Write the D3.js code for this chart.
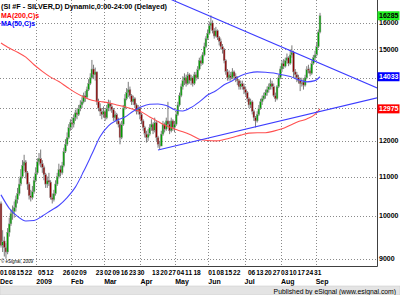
<!DOCTYPE html>
<html>
<head>
<meta charset="utf-8">
<script src="https://cdn.jsdelivr.net/npm/d3@7"></script>
<style>
  body { margin: 0; background: #fff; }
  svg { display: block; font-family: "Liberation Sans", Arial, sans-serif; }
</style>
</head>
<body>
<svg id="main-canvas" width="400" height="295"></svg>
<script>
// daily bars, Dec 1 2008 .. Sep 3 2009 (open = previous close)
var firstOpen = 10300
var closes = [
  9300, 9400, 9250, 9150, 9600, 9800, 10050, 10100, 10200, 10400, 10550, 10800, 11000, 11300, 11400, 11100, 10800, 10500, 10450, 10600, 10900, 11100,
  11400, 11500, 11350, 11250, 11050, 10800, 10900, 10850, 10450, 10400, 10550, 10800, 11000, 11200, 11100, 11300, 11700, 11900, 12100, 12400, 12550,
  12500, 12700, 12850, 12800, 13000, 13100, 13200, 13400, 13350, 13600, 13800, 14000, 14300, 14100, 14200, 13200, 13000, 12900, 12800, 12900,
  12700, 13000, 13150, 13050, 12950, 12700, 12800, 12600, 12500, 12100, 12500, 13000, 13300, 13500, 13600, 13400, 13200, 13300, 13100, 12900, 13000, 12800,
  12600, 12400, 12200, 12100, 12200, 12400, 12500, 12300, 12550, 12100, 11900, 11850, 12200, 12500, 12350, 12600, 12500, 12300, 12600, 12400, 12500,
  12800, 13100, 13400, 13700, 13900, 14000, 13800, 14100, 13900, 14000, 13800, 14100, 14000, 14300, 14600, 14500, 14800, 15100, 15400, 15600,
  15900, 16000, 15700, 15500, 15700, 15450, 15300, 15100, 15000, 14600, 14200, 14000, 14100, 14000, 14200, 14050, 13950, 13900, 13700, 13800, 13700, 13600,
  13500, 13300, 13100, 13200, 12900, 12700, 12600, 12800, 13000, 13200, 13300, 13400, 13500, 13600, 13700, 13800, 13700, 13400, 13300, 13700, 14000, 14300,
  14500, 14400, 14600, 14700, 14500, 14800, 14900, 14200, 14100, 14000, 13900, 13800, 13850, 13750, 14000, 14300, 14250, 14150, 14500, 14700, 14800,
  15100, 15650, 16285
]
var highs = [
  10350, 9650, 9500, 9350, 9700, 9950, 10150, 10250, 10350, 10500, 10700, 10950, 11200, 11450, 11600, 11450, 11150, 10850, 10650, 10750, 11000, 11250,
  11500, 11650, 11750, 11450, 11300, 11100, 11000, 11100, 10900, 10550, 10650, 10900, 11100, 11350, 11300, 11400, 11800, 12050, 12250, 12500, 12650,
  12700, 12800, 12950, 13000, 13100, 13250, 13350, 13500, 13550, 13700, 13950, 14150, 14620, 14450, 14350, 14100, 13300, 13150, 13000, 13050,
  12950, 13100, 13270, 13250, 13150, 13000, 12900, 12850, 12700, 12550, 12600, 13100, 13450, 13650, 13860, 13700, 13450, 13400, 13350, 13150, 13100, 13050,
  12850, 12650, 12450, 12300, 12350, 12500, 12650, 12550, 12700, 12600, 12150, 12000, 12300, 12600, 12550, 12700, 13200, 12600, 12700, 12650, 12600,
  12900, 13200, 13500, 13800, 14050, 14150, 14100, 14200, 14150, 14100, 14050, 14200, 14200, 14400, 14700, 14750, 14900, 15250, 15500, 15750,
  16050, 16300, 16100, 15800, 15850, 15750, 15500, 15400, 15200, 15050, 14650, 14300, 14250, 14200, 14330, 14250, 14150, 14050, 13950, 13900, 13900, 13800,
  13700, 13550, 13350, 13300, 13250, 12950, 12750, 12900, 13100, 13300, 13400, 13500, 13600, 13700, 13800, 13950, 13900, 13800, 13500, 13750, 14100, 14400,
  14600, 14650, 14700, 14850, 14750, 15000, 15150, 14950, 14300, 14200, 14100, 14000, 14000, 13950, 14100, 14400, 14450, 14350, 14600, 14800, 14950,
  15250, 15750, 16400
]
var lows = [
  9250, 9150, 9050, 9000, 9100, 9500, 9750, 9900, 9950, 10100, 10300, 10500, 10750, 10950, 11150, 10950, 10650, 10400, 10350, 10400, 10550, 10850,
  11050, 11300, 11250, 11100, 10900, 10700, 10700, 10750, 10400, 10300, 10350, 10500, 10750, 10950, 11000, 11050, 11250, 11650, 11850, 12050, 12300,
  12350, 12400, 12600, 12650, 12750, 12900, 13000, 13150, 13200, 13300, 13550, 13750, 13950, 13950, 13900, 13100, 12900, 12750, 12650, 12700,
  12600, 12650, 12900, 12900, 12850, 12600, 12600, 12500, 12400, 11900, 12050, 12450, 12950, 13250, 13350, 13300, 13100, 13100, 13000, 12800, 12800, 12650,
  12500, 12300, 12100, 11950, 12000, 12150, 12300, 12200, 12250, 12000, 11800, 11750, 11850, 12150, 12250, 12300, 12400, 12200, 12250, 12300, 12250,
  12450, 12750, 13050, 13350, 13600, 13750, 13700, 13750, 13800, 13750, 13700, 13750, 13900, 13950, 14250, 14400, 14450, 14750, 15050, 15350,
  15550, 15750, 15600, 15400, 15450, 15350, 15150, 15000, 14850, 14500, 14100, 13900, 13900, 13900, 13950, 13950, 13850, 13750, 13600, 13600, 13600, 13450,
  13400, 13200, 13000, 13000, 12800, 12600, 12400, 12550, 12750, 12950, 13100, 13250, 13300, 13400, 13500, 13600, 13600, 13350, 13200, 13250, 13650, 13950,
  14200, 14300, 14350, 14500, 14400, 14450, 14700, 14000, 13950, 13850, 13800, 13550, 13700, 13600, 13700, 13950, 14150, 14050, 14100, 14450, 14600,
  14750, 15050, 15600
]
var holidays = ["2008-12-25", "2009-01-01", "2009-04-10", "2009-05-25", "2009-07-03"]

// moving averages, every 5th bar
var maIndex = [0, 5, 10, 15, 20, 25, 30, 35, 40, 45, 50, 55, 60, 65, 70, 75, 80, 85, 90, 95,
               100, 105, 110, 115, 120, 125, 130, 135, 140, 145, 150, 155, 160, 165, 170, 175, 180, 185, 190, 193]
var ma50 = [10520, 10180, 9980, 9870, 9880, 9990, 10120, 10250, 10450, 10720, 11140, 11620, 12130, 12450, 12620, 12720, 12900, 13040, 13120, 13130,
            13080, 12950, 12910, 13020, 13200, 13420, 13560, 13760, 13900, 14070, 14160, 14200, 14190, 14160, 14100, 14040, 13930, 13860, 13900, 14033]
var ma200 = [15240, 15050, 14900, 14720, 14450, 14220, 14020, 13870, 13680, 13500, 13360, 13250, 13210, 13170, 13100, 13040, 12960, 12880, 12720, 12580,
             12450, 12350, 12270, 12170, 12050, 12010, 12000, 12040, 12100, 12170, 12230, 12240, 12240, 12290, 12360, 12470, 12580, 12660, 12800, 12975]

// trendlines: [bar index, price]
var trendUpper = [[100, 17030], [228, 13645]]
var trendLower = [[95, 11737], [228, 13333]]

var priceTicks = [9000, 10000, 11000, 12000, 13000, 14000, 15000, 16000]
var dayTicks = ["2008-12-01", "2008-12-08", "2008-12-15", "2008-12-22",
                "2009-01-05", "2009-01-12", "2009-01-26",
                "2009-02-02", "2009-02-09", "2009-02-23",
                "2009-03-02", "2009-03-09", "2009-03-16", "2009-03-23", "2009-03-30",
                "2009-04-13", "2009-04-20", "2009-04-27",
                "2009-05-04", "2009-05-11", "2009-05-18",
                "2009-06-01", "2009-06-08", "2009-06-15", "2009-06-22",
                "2009-07-06", "2009-07-13", "2009-07-20", "2009-07-27",
                "2009-08-03", "2009-08-10", "2009-08-17", "2009-08-24", "2009-08-31"]
var monthNames = ["Dec", "2009", "Feb", "Mar", "Apr", "May", "Jun", "Jul", "Aug", "Sep"]

var titleText = "(SI #F - SILVER,D) Dynamic,0:00-24:00 (Delayed)"

// ---- layout ----
var W = 400, H = 295
var plotR = 377, plotB = 266
var svg = d3.select("#main-canvas")
var fmt = d3.timeFormat("%Y-%m-%d")

var dates = d3.timeDay.range(new Date(2008, 11, 1), new Date(2009, 8, 4))
              .filter(function (d) { return d.getDay() > 0 && d.getDay() < 6 && holidays.indexOf(fmt(d)) < 0 })
              .slice(0, closes.length)
var dateKeys = dates.map(fmt)

var bars = closes.map(function (c, i) {
    return { i: i, o: i ? closes[i - 1] : firstOpen, c: c, h: highs[i], l: lows[i] }
})

var x = d3.scaleLinear().domain([0, 193]).range([1, 320])
var y = d3.scaleLog().domain([8843, 16923]).range([plotB, 0])

svg.append("rect").attr("width", W).attr("height", H).attr("fill", "#fff")

svg.append("clipPath").attr("id", "plot-clip")
   .append("rect").attr("x", 0).attr("y", 0).attr("width", plotR).attr("height", plotB)

// grid
var grid = svg.append("g").attr("stroke", "#8a8a8a").attr("stroke-dasharray", "1,2").attr("stroke-width", 1)
grid.selectAll(".hg").data(priceTicks).enter().append("line")
    .attr("x1", 0).attr("x2", plotR)
    .attr("y1", function (d) { return Math.round(y(d)) + 0.5 })
    .attr("y2", function (d) { return Math.round(y(d)) + 0.5 })

var monthStarts = []
dates.forEach(function (d, i) {
    if (i === 0 || d.getMonth() !== dates[i - 1].getMonth()) monthStarts.push(i)
})
grid.selectAll(".vg").data(monthStarts.slice(1)).enter().append("line")
    .attr("y1", 0).attr("y2", plotB)
    .attr("x1", function (d) { return Math.round(x(d)) - 0.5 })
    .attr("x2", function (d) { return Math.round(x(d)) - 0.5 })

var plot = svg.append("g").attr("clip-path", "url(#plot-clip)")

// candles
plot.append("g").selectAll("line").data(bars).enter().append("line")
    .attr("x1", function (d) { return x(d.i) }).attr("x2", function (d) { return x(d.i) })
    .attr("y1", function (d) { return y(d.h) }).attr("y2", function (d) { return y(d.l) })
    .attr("stroke", "#7a7a7a").attr("stroke-width", 1)

plot.append("g").selectAll("rect").data(bars).enter().append("rect")
    .attr("x", function (d) { return x(d.i) - 0.9 })
    .attr("width", 1.8)
    .attr("y", function (d) { return y(Math.max(d.o, d.c)) })
    .attr("height", function (d) { return Math.max(1, Math.abs(y(d.o) - y(d.c))) })
    .attr("fill", function (d) { return d.c >= d.o ? "#00a000" : "#8b0000" })
    .attr("stroke", "#9a9a9a").attr("stroke-width", 0.5)

// moving averages
var maLine = d3.line()
    .x(function (d, k) { return x(maIndex[k]) })
    .y(function (d) { return y(d) })
    .curve(d3.curveMonotoneX)

plot.append("path").datum(ma200).attr("d", maLine)
    .attr("fill", "none").attr("stroke", "#ff5050").attr("stroke-width", 1.1)
plot.append("path").datum(ma50).attr("d", maLine)
    .attr("fill", "none").attr("stroke", "#4646ff").attr("stroke-width", 1.1)

// trendlines
var trLine = d3.line().x(function (d) { return x(d[0]) }).y(function (d) { return y(d[1]) })
plot.selectAll(".trend").data([trendUpper, trendLower]).enter().append("path")
    .attr("d", trLine).attr("fill", "none").attr("stroke", "#3c3cff").attr("stroke-width", 1.1)

// frame
svg.append("line").attr("x1", plotR + 0.5).attr("x2", plotR + 0.5).attr("y1", 0).attr("y2", plotB + 0.5)
   .attr("stroke", "#404040")
svg.append("line").attr("x1", 0).attr("x2", plotR + 0.5).attr("y1", plotB + 0.5).attr("y2", plotB + 0.5)
   .attr("stroke", "#404040")

// price axis labels
svg.append("g").selectAll("text").data(priceTicks).enter().append("text")
   .attr("x", 379).attr("y", function (d) { return y(d) + 2.5 })
   .attr("font-size", 7).attr("font-weight", "bold").attr("fill", "#000")
   .text(function (d) { return d })

// last value boxes
var lastVals = [
    { v: closes[closes.length - 1], bg: "#22ee22", fg: "#000" },
    { v: ma50[ma50.length - 1], bg: "#0000ff", fg: "#fff" },
    { v: ma200[ma200.length - 1], bg: "#ff0000", fg: "#fff" }
]
var boxes = svg.append("g").selectAll("g").data(lastVals).enter().append("g")
    .attr("transform", function (d) { return "translate(377.5," + (y(d.v) - 4.5) + ")" })
boxes.append("rect").attr("width", 22).attr("height", 9).attr("fill", function (d) { return d.bg })
boxes.append("text").attr("x", 1.5).attr("y", 7)
     .attr("font-size", 7).attr("font-weight", "bold")
     .attr("fill", function (d) { return d.fg })
     .text(function (d) { return d.v })

// date axis
svg.append("g").selectAll("text").data(dayTicks).enter().append("text")
   .attr("x", function (d) { return x(dateKeys.indexOf(d)) - 1 })
   .attr("y", 275)
   .attr("font-size", 6.6).attr("font-weight", "bold").attr("fill", "#000")
   .text(function (d) { return d.slice(8) })

svg.append("g").selectAll("text").data(monthStarts).enter().append("text")
   .attr("x", function (d) { return x(d) - 1 })
   .attr("y", 284)
   .attr("font-size", 7).attr("font-weight", "bold").attr("fill", "#000")
   .text(function (d, k) { return monthNames[k] })

// footer band
svg.append("rect").attr("x", 0).attr("y", 286).attr("width", W).attr("height", 9)
   .attr("fill", "#e4e4e4").attr("stroke", "#c8c8c8").attr("stroke-width", 0.5)
svg.append("text").attr("x", 396).attr("y", 293.5).attr("text-anchor", "end")
   .attr("font-size", 6.8).attr("fill", "#000")
   .text("Published by eSignal (www.esignal.com)")

// titles
svg.append("text").attr("x", 1).attr("y", 9)
   .attr("font-size", 7.6).attr("font-weight", "bold").attr("fill", "#000")
   .attr("textLength", 166).attr("lengthAdjust", "spacingAndGlyphs")
   .text(titleText)
svg.append("text").attr("x", 1).attr("y", 17.5)
   .attr("font-size", 7).attr("font-weight", "bold").attr("fill", "#ff0000")
   .text("MA(200,C)s")
svg.append("text").attr("x", 1).attr("y", 26)
   .attr("font-size", 7).attr("font-weight", "bold").attr("fill", "#0000ff")
   .text("MA(50,C)s")
svg.append("text").attr("x", 1).attr("y", 263)
   .attr("font-size", 4.5).attr("fill", "#000")
   .text("\u00a9 eSignal, 2009")
</script>
</body>
</html>
